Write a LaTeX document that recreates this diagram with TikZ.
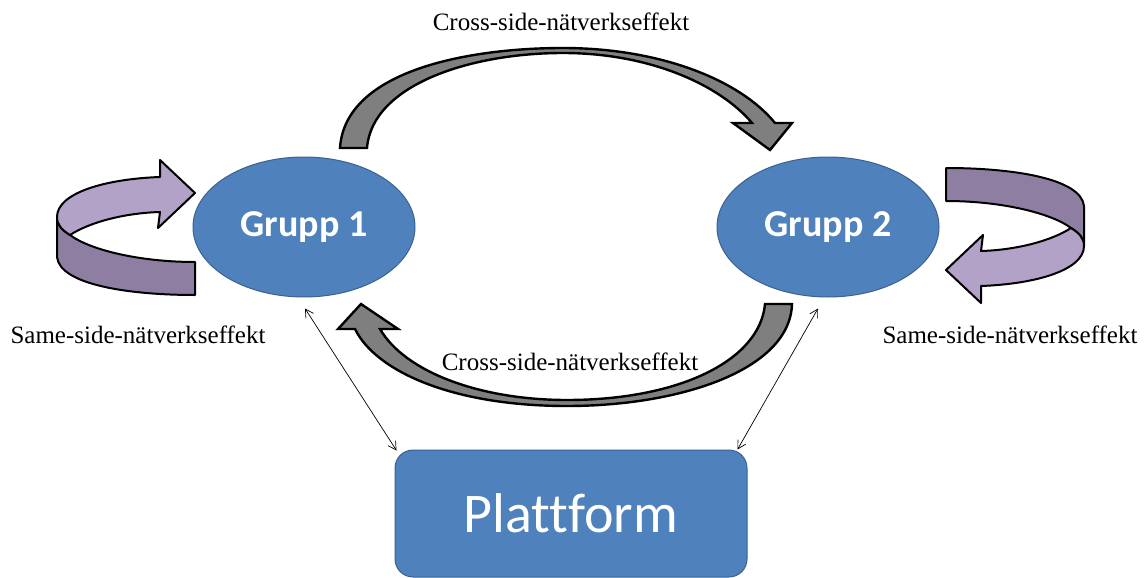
\documentclass[tikz,border=0pt]{standalone}
\usepackage{fontspec}
\setmainfont{Liberation Serif}
\newfontfamily\calib[Ligatures=NoCommon]{Carlito}
\usetikzlibrary{shapes.geometric,arrows.meta,calc}

\definecolor{grpblue}{HTML}{4F81BD}
\definecolor{grpedge}{HTML}{3A6190}
\definecolor{lavlight}{HTML}{B3A2C7}
\definecolor{lavdark}{HTML}{8E7FA2}
\definecolor{bandgray}{HTML}{7F7F7F}

\tikzset{
  group/.style={ellipse, draw=grpedge, line width=1pt, fill=grpblue,
    minimum width=222pt, minimum height=140pt, inner sep=0pt,
    text=white, font=\calib\bfseries\fontsize{38}{40}\selectfont},
  platbox/.style={rectangle, rounded corners=18pt, draw=grpedge, line width=1pt,
    fill=grpblue, minimum width=352pt, minimum height=127pt, inner sep=0pt,
    text=white, font=\calib\fontsize{56}{60}\selectfont},
  effect/.style={inner sep=0pt, font=\fontsize{25}{28}\selectfont},
  crossband/.style={fill=bandgray, draw=black, line width=2.4pt, line join=miter},
  loopband/.style={draw=black, line width=2pt, line join=round},
  link/.style={line width=0.7pt, {Straight Barb[length=8pt,width=9pt]}-{Straight Barb[length=8pt,width=9pt]}}
}

\begin{document}
\begin{tikzpicture}[x=1pt,y=-1pt]
\useasboundingbox (0,0) rectangle (1146,578);

% the two user groups and the platform
\node[group] (g1) at (304,227) {Grupp 1};
\node[group] (g2) at (828,227) {Grupp 2};
\node[platbox] (plat) at (571,513.5) {Plattform};

% cross-side effect, group 1 to group 2 (upper arc)
\draw[crossband]
  (340,148) .. controls (345,70) and (470,48) .. (563,48)
  .. controls (660,48) and (740,80) .. (775,123)
  -- (792,123) -- (770,150) -- (733,123) -- (752,123)
  .. controls (720,85) and (650,53) .. (563,53)
  .. controls (470,53) and (372,85) .. (367,148) -- cycle;

% cross-side effect, group 2 to group 1 (lower arc)
\draw[crossband]
  (792,304) .. controls (790,370) and (680,406) .. (567,406)
  .. controls (450,406) and (375,370) .. (355,329)
  -- (338,329) -- (361,304) -- (398,329) -- (380,329)
  .. controls (405,372) and (480,400) .. (567,400)
  .. controls (680,400) and (760,360) .. (765,304) -- cycle;

% same-side loop around group 1
\def\sameloop{%
  \filldraw[loopband, fill=lavdark]
    (57,217) -- (57,257)
    .. controls (60,285) and (130,295) .. (195,295)
    -- (195,262)
    .. controls (140,262) and (90,250) .. (70,235)
    .. controls (62,230) and (57,225) .. (57,217) -- cycle;
  \filldraw[loopband, fill=lavlight]
    (160,177) .. controls (105,179) and (57,193) .. (57,217)
    .. controls (57,225) and (62,230) .. (70,235)
    .. controls (90,222) and (125,213) .. (160,212)
    -- (158,228) -- (195,193) -- (160,160) -- cycle;
}
\sameloop
% same-side loop around group 2 (the same ribbon turned half a turn)
\begin{scope}[shift={(1015,235.5)}, rotate=180, shift={(-126,-227.5)}]
\sameloop
\end{scope}

% links between the groups and the platform
\coordinate (g1foot) at ($(g1.south)+(1,11)$);
\coordinate (g2foot) at ($(g2.south)+(-10,11)$);
\draw[link] (g1foot) -- ($(plat.north west)+(2,1)$);
\draw[link] (g2foot) -- ($(plat.north east)+(-10,0)$);

% labels
\node[effect] (lt) at (561,22) {Cross-side-nätverkseffekt};
\node[effect] (lb) at (570,362) {Cross-side-nätverkseffekt};
\node[effect] (ll) at (138,335) {Same-side-nätverkseffekt};
\node[effect] (lr) at (1010,335) {Same-side-nätverkseffekt};
\end{tikzpicture}
\end{document}
